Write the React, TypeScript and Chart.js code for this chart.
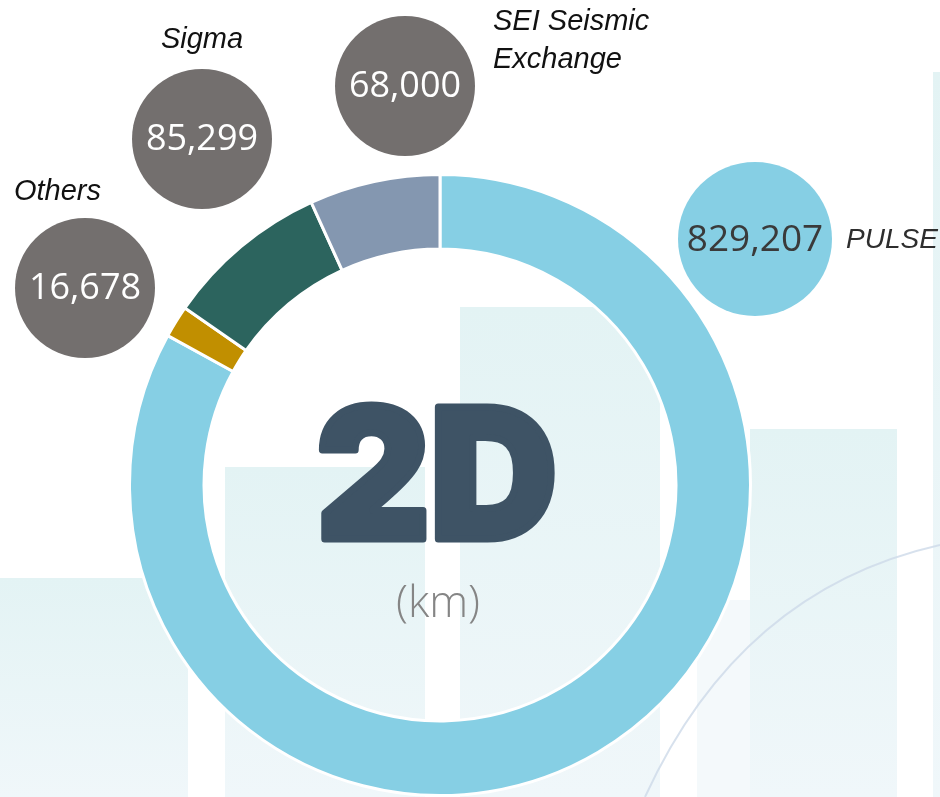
import React, { useEffect, useRef } from "react";
import { Chart, registerables } from "chart.js";
Chart.register(...registerables);

// ---- data ----
const categories = ["PULSE", "Others", "Sigma", "SEI Seismic Exchange"];
const values = [829207, 16678, 85299, 68000];
const sliceColors = ["#86cfe4", "#c18f00", "#2c645e", "#8497b0"];
const bubbleColors = ["#86cfe4", "#736f6e", "#736f6e", "#736f6e"];
const numberColors = ["#3a3a3a", "#ffffff", "#ffffff", "#ffffff"];
const labelLines = [["PULSE"], ["Others"], ["Sigma"], ["SEI Seismic", "Exchange"]];
const centerTitle = "2D";
const centerUnit = "(km)";

// ---- layout (annotation placement only) ----
const bubbleLayout = [
  { x: 755, y: 239, r: 77, lx: 846, ly: 240, align: "left", fs: 28 },
  { x: 85, y: 288, r: 70, lx: 14, ly: 192, align: "left", fs: 29 },
  { x: 202, y: 139, r: 70, lx: 202, ly: 40, align: "center", fs: 29 },
  { x: 405, y: 86, r: 70, lx: 493, ly: 22, align: "left", fs: 29 },
];
const bgBars = [
  { x0: 0, x1: 188, top: 578 },
  { x0: 225, x1: 425, top: 467 },
  { x0: 460, x1: 660, top: 307 },
  { x0: 750, x1: 897, top: 429 },
  { x0: 933, x1: 940, top: 72 },
];

const W = 940;
const H = 797;

const decoPlugin = {
  id: "deco",
  beforeDraw(chart: any) {
    const ctx = chart.ctx as CanvasRenderingContext2D;
    ctx.save();
    ctx.fillStyle = "#ffffff";
    ctx.fillRect(0, 0, W, H);
    for (const b of bgBars) {
      const g = ctx.createLinearGradient(0, b.top, 0, H);
      g.addColorStop(0, "#e3f3f4");
      g.addColorStop(1, "#f0f7fa");
      ctx.fillStyle = g;
      ctx.fillRect(b.x0, b.top, b.x1 - b.x0, H - b.top);
    }
    ctx.fillStyle = "rgba(240,247,250,0.7)";
    ctx.fillRect(697, 600, 53, H - 600);
    ctx.beginPath();
    ctx.moveTo(645, H);
    ctx.quadraticCurveTo(740, 590, 940, 545);
    ctx.strokeStyle = "rgba(205,218,232,0.8)";
    ctx.lineWidth = 2;
    ctx.stroke();
    ctx.restore();
  },
  afterDraw(chart: any) {
    const ctx = chart.ctx as CanvasRenderingContext2D;
    const meta = chart.getDatasetMeta(0);
    const arc = meta.data[0];
    const cx = arc.x;
    ctx.save();
    // bubbles
    values.forEach((v, i) => {
      const b = bubbleLayout[i];
      ctx.beginPath();
      ctx.arc(b.x, b.y, b.r, 0, Math.PI * 2);
      ctx.fillStyle = bubbleColors[i];
      ctx.fill();
      ctx.fillStyle = numberColors[i];
      ctx.font = `400 ${i === 0 ? 37 : 36}px "Open Sans", sans-serif`;
      ctx.textAlign = "center";
      ctx.textBaseline = "middle";
      ctx.fillText(v.toLocaleString("en-US"), b.x, b.y + 1);
      // label
      ctx.fillStyle = i === 0 ? "#2e2e2e" : "#111111";
      ctx.font = `italic 400 ${b.fs}px "Liberation Sans", Arial, sans-serif`;
      ctx.textAlign = b.align as CanvasTextAlign;
      labelLines[i].forEach((line, k) => {
        ctx.fillText(line, b.lx, b.ly + k * 38);
      });
    });
    // center text
    ctx.fillStyle = "#3e5365";
    ctx.strokeStyle = "#3e5365";
    ctx.lineJoin = "round";
    ctx.lineWidth = 7;
    ctx.font = `900 182px Inter, "DejaVu Sans", sans-serif`;
    ctx.textAlign = "left";
    ctx.textBaseline = "alphabetic";
    const m = ctx.measureText(centerTitle);
    const targetW = 230;
    const sx = targetW / (m.actualBoundingBoxRight + m.actualBoundingBoxLeft);
    ctx.save();
    ctx.translate(cx - 3 - targetW / 2, 539);
    ctx.scale(sx, 1);
    ctx.fillText(centerTitle, m.actualBoundingBoxLeft, 0);
    ctx.strokeText(centerTitle, m.actualBoundingBoxLeft, 0);
    ctx.restore();
    ctx.fillStyle = "#858585";
    ctx.font = `300 44px "Open Sans", sans-serif`;
    ctx.textAlign = "center";
    ctx.textBaseline = "middle";
    ctx.fillText(centerUnit, cx - 2, 604);
    ctx.restore();
  },
};

export default function App() {
  const ref = useRef<HTMLCanvasElement | null>(null);
  useEffect(() => {
    if (!ref.current) return;
    const chart = new Chart(ref.current, {
      type: "doughnut",
      data: {
        labels: categories,
        datasets: [
          {
            data: values,
            backgroundColor: sliceColors,
            borderColor: "#ffffff",
            borderWidth: 3,
            hoverOffset: 0,
            hoverBorderWidth: 3,
          },
        ],
      },
      options: {
        animation: false,
        responsive: false,
        cutout: "76%",
        layout: { padding: { left: 128, right: 188, top: 173, bottom: 0 } },
        plugins: { legend: { display: false }, tooltip: { enabled: false } },
        events: [],
      },
      plugins: [decoPlugin],
    });
    return () => chart.destroy();
  }, []);
  return (
    <div style={{ position: "absolute", left: 0, top: 0, width: W, height: H, background: "#fff" }}>
      <canvas ref={ref} width={W} height={H} style={{ width: W, height: H, display: "block" }} />
    </div>
  );
}
